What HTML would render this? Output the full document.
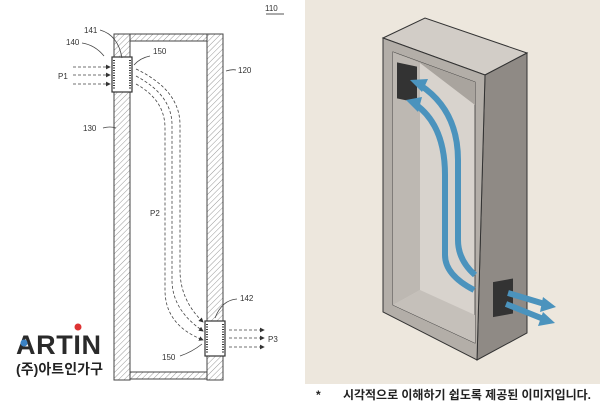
<!DOCTYPE html>
<html><head><meta charset="utf-8"><style>
body{margin:0;width:600px;height:408px;background:#fff;overflow:hidden}
svg{display:block}
text{font-family:"Liberation Sans","Noto Sans CJK KR",sans-serif}
</style></head><body>
<svg width="600" height="408" viewBox="0 0 600 408">
<defs>
<pattern id="h" width="4" height="4" patternUnits="userSpaceOnUse" patternTransform="rotate(45)">
<rect width="4" height="4" fill="#fff"/><line x1="0" y1="0" x2="0" y2="4" stroke="#999" stroke-width="1"/>
</pattern>
<marker id="ar" markerWidth="6" markerHeight="6" refX="5" refY="3" orient="auto"><path d="M0,0L6,3L0,6z" fill="#333"/></marker>
</defs>
<!-- left patent drawing -->
<text x="265" y="11" font-size="8" fill="#333">110</text>
<line x1="266" y1="14" x2="284" y2="14" stroke="#555" stroke-width="1"/>
<rect x="114" y="34" width="16" height="346" fill="url(#h)" stroke="#444" stroke-width="1"/>
<rect x="207" y="34" width="16" height="346" fill="url(#h)" stroke="#444" stroke-width="1"/>
<rect x="130" y="34" width="77" height="7" fill="url(#h)" stroke="#444" stroke-width="1"/>
<rect x="130" y="372" width="77" height="7" fill="url(#h)" stroke="#444" stroke-width="1"/>
<!-- vents -->
<rect x="112" y="57" width="20" height="35" fill="#fff" stroke="#333" stroke-width="1.2"/>
<line x1="114" y1="60" x2="114" y2="89" stroke="#333" stroke-width="2" stroke-dasharray="1,1.5"/>
<line x1="130" y1="60" x2="130" y2="89" stroke="#333" stroke-width="2" stroke-dasharray="1,1.5"/>
<rect x="205" y="121" width="0" height="0"/>
<rect x="205" y="321" width="20" height="35" fill="#fff" stroke="#333" stroke-width="1.2"/>
<line x1="207" y1="324" x2="207" y2="353" stroke="#333" stroke-width="2" stroke-dasharray="1,1.5"/>
<line x1="223" y1="324" x2="223" y2="353" stroke="#333" stroke-width="2" stroke-dasharray="1,1.5"/>
<!-- labels -->
<g font-size="8" fill="#333">
<text x="84" y="33">141</text><text x="66" y="45">140</text><text x="153" y="54">150</text>
<text x="58" y="79">P1</text><text x="238" y="73">120</text><text x="83" y="131">130</text>
<text x="150" y="216">P2</text><text x="240" y="301">142</text><text x="268" y="342">P3</text><text x="162" y="360">150</text>
</g>
<g fill="none" stroke="#444" stroke-width="0.8">
<path d="M100,30 Q118,35 122,58"/><path d="M82,43 Q95,45 104,56"/>
<path d="M150,56 Q140,58 134,65"/><path d="M226,71 Q232,69 236,70"/>
<path d="M103,128 Q110,126 116,128"/><path d="M237,299 Q222,300 215,318"/>
<path d="M180,356 Q192,352 202,344"/>
</g>
<g stroke="#444" stroke-width="0.8" stroke-dasharray="3,2" fill="none">
<line x1="73" y1="67" x2="110" y2="67" marker-end="url(#ar)"/>
<line x1="73" y1="75" x2="110" y2="75" marker-end="url(#ar)"/>
<line x1="73" y1="84" x2="110" y2="84" marker-end="url(#ar)"/>
<line x1="229" y1="330" x2="264" y2="330" marker-end="url(#ar)"/>
<line x1="229" y1="338" x2="264" y2="338" marker-end="url(#ar)"/>
<line x1="229" y1="347" x2="264" y2="347" marker-end="url(#ar)"/>
<path d="M136,69 Q180,90 180,125 L180,270 Q180,300 203,322" marker-end="url(#ar)"/>
<path d="M136,76 Q172,95 172,125 L172,280 Q172,310 203,331" marker-end="url(#ar)"/>
<path d="M136,84 Q165,100 165,128 L165,290 Q165,325 203,340" marker-end="url(#ar)"/>
</g>
<!-- logo -->
<text x="16" y="354" font-size="27" font-weight="bold" fill="#2a2a2a" letter-spacing="2" textLength="87">ARTIN</text>
<circle cx="78" cy="327" r="3.5" fill="#d33"/>
<circle cx="24" cy="343" r="3.5" fill="#3b82c4"/>
<text x="16" y="374" font-size="14" font-weight="bold" fill="#222" textLength="87">(주)아트인가구</text>
<!-- right illustration -->
<rect x="305" y="0" width="295" height="384" fill="#ede7dd"/>
<polygon points="383,38 425,18 527,53 485,75" fill="#d2cdc7" stroke="#333" stroke-width="1"/>
<polygon points="485,75 527,53 527,333 477,360" fill="#8f8a85" stroke="#333" stroke-width="1"/>
<polygon points="383,38 485,75 477,360 383,312" fill="#b3aea8" stroke="#333" stroke-width="1"/>
<polygon points="393,52 475,82 475,343 393,305" fill="#d8d3cd" stroke="#333" stroke-width="0.8"/>
<polygon points="393,52 475,82 475,105 420,63" fill="#a9a49e"/>
<polygon points="393,52 420,63 420,290 393,305" fill="#bdb8b2"/>
<polygon points="393,305 420,290 475,315 475,343" fill="#c5c0ba"/>
<rect x="397" y="64" width="20" height="36" fill="#333" transform="skewY(12) translate(0,-86)"/>
<rect x="493" y="281" width="20" height="35" fill="#333" transform="skewY(-10) translate(0,88)"/>
<g fill="none" stroke="#4b93bd" stroke-width="6" stroke-linecap="butt">
<path d="M420,85 Q458,110 458,160 L458,240 Q458,260 475,275"/>
<path d="M415,104 Q445,125 445,175 L445,255 Q445,275 474,290"/>
<path d="M508,293 L548,305"/><path d="M506,304 L546,320"/>
</g>
<g fill="#4b93bd">
<polygon points="410,80 428,79 422,92"/><polygon points="406,100 422,97 418,112"/>
<polygon points="556,307 543,297 540,312"/><polygon points="555,323 543,312 538,326"/>
</g>
<text x="316" y="399" font-size="12" font-weight="bold" fill="#222">*</text>
<text x="343" y="399" font-size="12" font-weight="bold" fill="#222" textLength="248">시각적으로 이해하기 쉽도록 제공된 이미지입니다.</text>
</svg>
</body></html>
